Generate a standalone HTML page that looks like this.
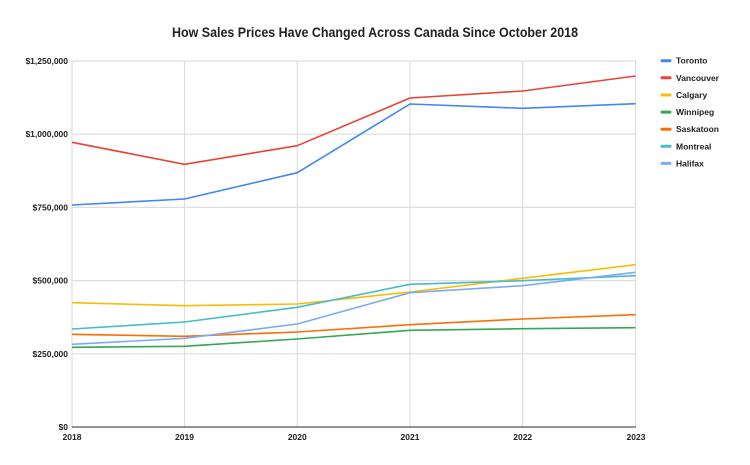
<!DOCTYPE html>
<html><head><meta charset="utf-8"><style>
html,body{margin:0;padding:0;background:#fff;}
svg{display:block;}
text{font-family:"Liberation Sans",Arial,sans-serif;}
</style></head><body>
<svg width="750" height="465" viewBox="0 0 750 465" xmlns="http://www.w3.org/2000/svg">
<rect width="750" height="465" fill="#fff"/>
<text x="375" y="37" text-anchor="middle" font-size="14" font-weight="bold" fill="#222" textLength="406" lengthAdjust="spacingAndGlyphs">How Sales Prices Have Changed Across Canada Since October 2018</text>
<g stroke="#dedede" stroke-width="1.2" fill="none">
<line x1="72" y1="61" x2="636" y2="61"/>
<line x1="72" y1="134.2" x2="636" y2="134.2"/>
<line x1="72" y1="207.4" x2="636" y2="207.4"/>
<line x1="72" y1="280.6" x2="636" y2="280.6"/>
<line x1="72" y1="353.8" x2="636" y2="353.8"/>
<line x1="72" y1="61" x2="72" y2="427"/>
<line x1="184.5" y1="61" x2="184.5" y2="427"/>
<line x1="297.3" y1="61" x2="297.3" y2="427"/>
<line x1="410" y1="61" x2="410" y2="427"/>
<line x1="522.7" y1="61" x2="522.7" y2="427"/>
<line x1="635.5" y1="61" x2="635.5" y2="427"/>
</g>
<line x1="72" y1="427" x2="636" y2="427" stroke="#555" stroke-width="1.2"/>
<g font-size="8.5" font-weight="bold" fill="#222" text-anchor="end">
<text x="68" y="64">$1,250,000</text>
<text x="68" y="137.2">$1,000,000</text>
<text x="68" y="210.4">$750,000</text>
<text x="68" y="283.6">$500,000</text>
<text x="68" y="356.8">$250,000</text>
<text x="68" y="430">$0</text>
</g>
<g font-size="8.5" font-weight="bold" fill="#222" text-anchor="middle">
<text x="72" y="440">2018</text>
<text x="184.5" y="440">2019</text>
<text x="297.3" y="440">2020</text>
<text x="410" y="440">2021</text>
<text x="522.7" y="440">2022</text>
<text x="636" y="440">2023</text>
</g>
<g fill="none" stroke-width="1.6" stroke-linejoin="round">
<polyline stroke="#4285F4" points="72,205 184.5,199 297.3,172.7 410,104 522.7,108.3 635.5,103.7"/>
<polyline stroke="#EA4335" points="72,142.3 184.5,164.3 297.3,145.7 410,98 522.7,91 635.5,76"/>
<polyline stroke="#FBBC04" points="72,302.7 184.5,305.7 297.3,304 410,292 522.7,278.3 635.5,264.7"/>
<polyline stroke="#34A853" points="72,347.3 184.5,346.3 297.3,339 410,330.3 522.7,328.7 635.5,327.7"/>
<polyline stroke="#FF6D01" points="72,334.3 184.5,336.3 297.3,332 410,324.7 522.7,319 635.5,314.7"/>
<polyline stroke="#46BDC6" points="72,329 184.5,322 297.3,307.3 410,284.3 522.7,280.7 635.5,275.7"/>
<polyline stroke="#7BAAF7" points="72,344.3 184.5,338.3 297.3,324 410,292.7 522.7,285.7 635.5,272.3"/>
</g>
<g stroke-width="3" stroke-linecap="round">
<line x1="662" y1="60.7" x2="670" y2="60.7" stroke="#4285F4"/>
<line x1="662" y1="77.8" x2="670" y2="77.8" stroke="#EA4335"/>
<line x1="662" y1="95" x2="670" y2="95" stroke="#FBBC04"/>
<line x1="662" y1="112.1" x2="670" y2="112.1" stroke="#34A853"/>
<line x1="662" y1="129.2" x2="670" y2="129.2" stroke="#FF6D01"/>
<line x1="662" y1="146.3" x2="670" y2="146.3" stroke="#46BDC6"/>
<line x1="662" y1="163.4" x2="670" y2="163.4" stroke="#7BAAF7"/>
</g>
<g font-size="8.5" font-weight="bold" fill="#222">
<text x="676" y="63.7">Toronto</text>
<text x="676" y="80.8">Vancouver</text>
<text x="676" y="98">Calgary</text>
<text x="676" y="115.1">Winnipeg</text>
<text x="676" y="132.2">Saskatoon</text>
<text x="676" y="149.3">Montreal</text>
<text x="676" y="166.4">Halifax</text>
</g>
</svg>
</body></html>
